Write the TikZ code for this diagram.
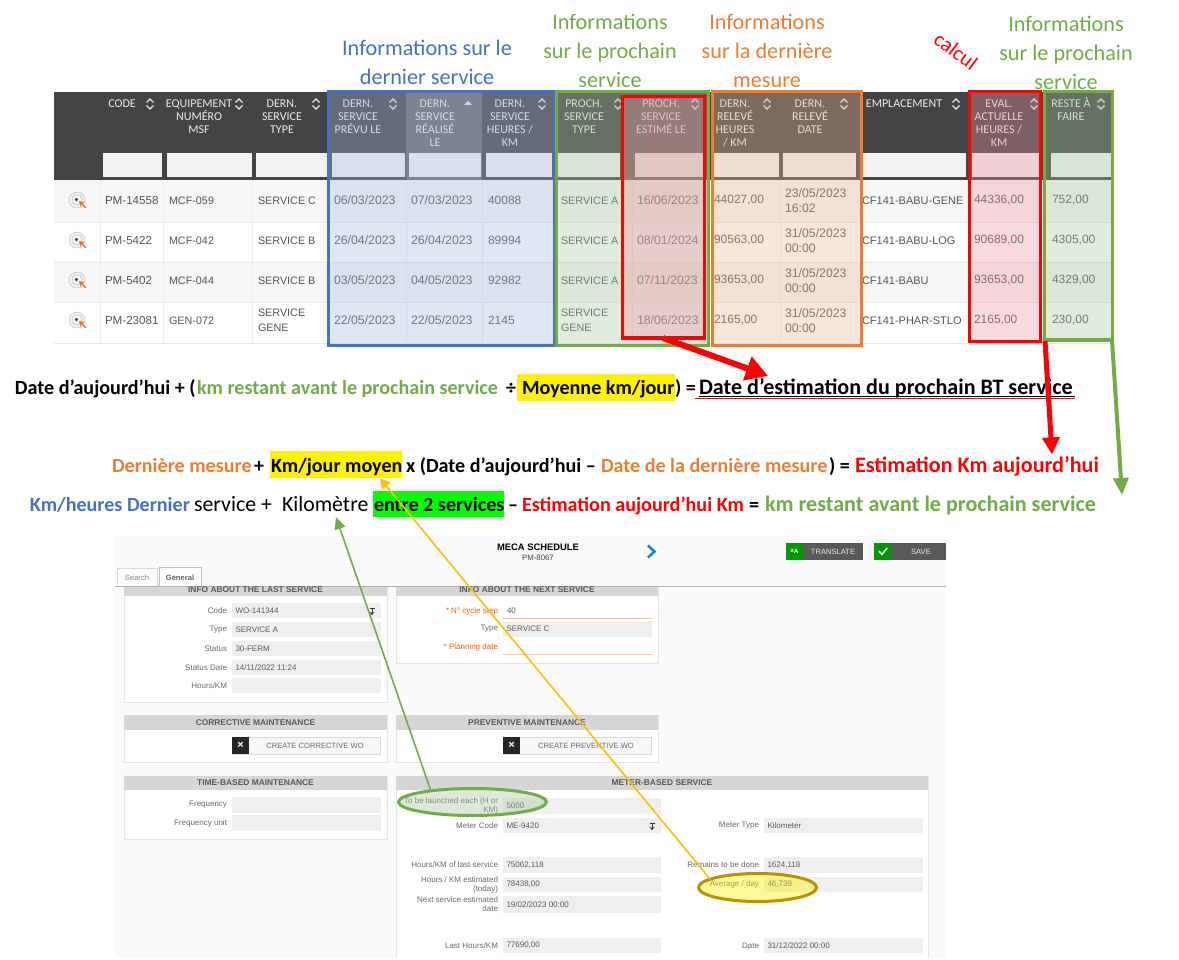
\documentclass[tikz,border=0pt]{standalone}
\usepackage{fontspec}
\setmainfont{Carlito}
\newfontfamily\uifont{Liberation Sans}
\usetikzlibrary{arrows.meta}
\usetikzlibrary{fit}
\usetikzlibrary{shapes.geometric}
\definecolor{zoneblue}{HTML}{4472C4}
\definecolor{zonegreen}{HTML}{70AD47}
\definecolor{zoneorange}{HTML}{ED7D31}
\definecolor{tintblue}{HTML}{A5BBDF}
\definecolor{tintgreen}{HTML}{A9C99E}
\definecolor{tintorange}{HTML}{EDB794}
\definecolor{tintred}{HTML}{EF94A3}
\definecolor{headdark}{HTML}{444444}
\definecolor{bodytext}{HTML}{555555}
\definecolor{formtext}{HTML}{6A6A6A}
\definecolor{fieldgrey}{HTML}{EFEFEF}
\definecolor{panelhead}{HTML}{D6D6D6}
\definecolor{gold}{HTML}{BF9000}
\definecolor{arrowgold}{HTML}{FFC000}
\tikzset{
  every node/.style={inner sep=0pt, outer sep=0pt},
  zonetitle/.style={align=center, font=\fontsize{22.2}{29}\selectfont},
  headtext/.style={anchor=north, align=center, text=white!92!black, font=\fontsize{12}{13}\selectfont},
  celltext/.style={anchor=west, align=left, text=bodytext},
  zonebox/.style={rectangle, line width=3pt, fill opacity=.34, draw opacity=1},
  formula/.style={anchor=base west, font=\bfseries\fontsize{20.1}{22}\selectfont},
  bigformula/.style={anchor=base west, font=\bfseries\fontsize{22.1}{24}\selectfont},
  plainformula/.style={anchor=base west, font=\fontsize{21.8}{24}\selectfont},
  formlabel/.style={anchor=east, align=right, text=formtext, font=\uifont\fontsize{8}{9}\selectfont},
  formvalue/.style={anchor=west, text=formtext!85!black, font=\uifont\fontsize{8}{9}\selectfont},
  panelhd/.style={text=black!65, font=\uifont\bfseries\fontsize{8.4}{9}\selectfont},
  btntext/.style={text=white!90!black, font=\uifont\fontsize{7.6}{9}\selectfont},
  oval/.style={ellipse, line width=3pt, fill opacity=.4, draw opacity=1},
}
% one column of the table, four rows
\newcommand{\cellcol}[7][11]{
  \node[celltext, font=\uifont\fontsize{#1}{15.5}\selectfont] (#2a) at (#3,200.5) {#4};
  \node[celltext, font=\uifont\fontsize{#1}{15.5}\selectfont] (#2b) at (#3,240.5) {#5};
  \node[celltext, font=\uifont\fontsize{#1}{15.5}\selectfont] (#2c) at (#3,280.5) {#6};
  \node[celltext, font=\uifont\fontsize{#1}{15.5}\selectfont] (#2d) at (#3,320.5) {#7};
}
% label and grey field of the form
\newcommand{\formfield}[8]{
  \fill[fieldgrey] (#3,#5) rectangle (#4,#6);
  \node[formlabel] (#1l) at (#2-5,{(#5+#6)/2}) {#7};
  \node[formvalue] (#1v) at (#3+3.5,{(#5+#6)/2}) {#8};
}
\newcommand{\formpanel}[4]{
  \fill[white] (#1,#2) rectangle (#3,#4);
  \draw[black!10] (#1,#2) rectangle (#3,#4);
}
\begin{document}
\begin{tikzpicture}[x=1pt, y=-1pt]
  \useasboundingbox (0,0) rectangle (1179,960);
  \fill[white] (0,0) rectangle (1179,960);

  % table
  \fill[headdark] (54,92) rectangle (1112,180);
  \fill[headdark!80!white] (406,92) rectangle (482,180);
  \fill[black!3] (54,180) rectangle (1112,222);
  \fill[black!3] (54,262) rectangle (1112,302);
  \foreach \yy in {222,262,302,343}
    \draw[black!9] (54,\yy) -- (1112,\yy);
  \foreach \xx in {100,163,252,406,482,632,780,861,1041}
    \draw[black!7] (\xx,180) -- (\xx,343);
  \foreach \xa/\xb in {103/162,167/252,256/327,332/405,409/481,486/552,558/620,635/706,714/779,783/856,862/966,972/1039,1051/1111}
    \fill[white!95!black] (\xa,153) rectangle (\xb,177);

  \node[headtext] (hcode) at (122,100) {CODE};
  \node[headtext] (hequip) at (199,100) {EQUIPEMENT\\NUMÉRO\\MSF};
  \node[headtext] (htype) at (282,100) {DERN.\\SERVICE\\TYPE};
  \node[headtext] (hprevu) at (358,100) {DERN.\\SERVICE\\PRÉVU LE};
  \node[headtext] (hreal) at (435,100) {DERN.\\SERVICE\\RÉALISÉ\\LE};
  \node[headtext] (hheures) at (510,100) {DERN.\\SERVICE\\HEURES /\\KM};
  \node[headtext] (hproch) at (584,100) {PROCH.\\SERVICE\\TYPE};
  \node[headtext] (hestim) at (661,100) {PROCH.\\SERVICE\\ESTIMÉ LE};
  \node[headtext] (hrel) at (735,100) {DERN.\\RELEVÉ\\HEURES\\/ KM};
  \node[headtext] (hdate) at (810,100) {DERN.\\RELEVÉ\\DATE};
  \node[headtext] (hempl) at (904,100) {EMPLACEMENT};
  \node[headtext] (heval) at (999,100) {EVAL.\\ACTUELLE\\HEURES /\\KM};
  \node[headtext] (hreste) at (1071,97.5) {RESTE À\\FAIRE};
  \foreach \xx in {150,239,316,393,542,618,695,767,844,956,1034,1101} {
    \draw[white!90!black, line width=1.2pt] (\xx-3.5,102.5) -- (\xx,99) -- (\xx+3.5,102.5);
    \draw[white!90!black, line width=1.2pt] (\xx-3.5,105.5) -- (\xx,109) -- (\xx+3.5,105.5);
  }
  \fill[white!90!black] (464,105) -- (468,101) -- (472,105) -- cycle;

  % icons of the first column
  \foreach \yy in {200,240,280,320} {
    \draw[black!25, fill=black!6] (77,\yy) circle (8pt);
    \draw[black!30, fill=white] (77,\yy) circle (5pt);
    \fill[black!70] (76.5,\yy-.5) circle (1.8pt);
    \draw[-{Stealth[length=5pt,width=6pt]}, draw=orange!80!red, line width=1.3pt] (86,\yy+8) -- (79,\yy+1);
  }

  \cellcol[11.6]{code}{105}{PM-14558}{PM-5422}{PM-5402}{PM-23081}
  \cellcol[10.8]{equip}{169}{MCF-059}{MCF-042}{MCF-044}{GEN-072}
  \cellcol[10.8]{type}{258}{SERVICE C}{SERVICE B}{SERVICE B}{SERVICE\\GENE}
  \cellcol[12.3]{prevu}{334}{06/03/2023}{26/04/2023}{03/05/2023}{22/05/2023}
  \cellcol[12.3]{real}{411}{07/03/2023}{26/04/2023}{04/05/2023}{22/05/2023}
  \cellcol[12]{hkm}{488}{40088}{89994}{92982}{2145}
  \cellcol[10.8]{proch}{561}{SERVICE A}{SERVICE A}{SERVICE A}{SERVICE\\GENE}
  \cellcol[12.3]{estim}{637}{16/06/2023}{08/01/2024}{07/11/2023}{18/06/2023}
  \cellcol[12]{rel}{714}{44027,00}{90563,00}{93653,00}{2165,00}
  \cellcol[12.3]{date}{785}{23/05/2023\\16:02}{31/05/2023\\00:00}{31/05/2023\\00:00}{31/05/2023\\00:00}
  \cellcol[11]{empl}{862}{CF141-BABU-GENE}{CF141-BABU-LOG}{CF141-BABU}{CF141-PHAR-STLO}
  \cellcol[12]{eval}{974}{44336,00}{90689,00}{93653,00}{2165,00}
  \cellcol[12]{reste}{1052}{752,00}{4305,00}{4329,00}{230,00}

  % coloured zones over the table
  \node[zonebox, draw=zoneblue, fill=tintblue, fit={(328,92) (554,345)}] (bluezone) {};
  \node[zonebox, draw=zonegreen, fill=tintgreen, fit={(556,92) (708,345)}] (greenzone) {};
  \node[zonebox, draw=red, fill=tintred, fit={(622,97) (704,338)}] (estimzone) {};
  \node[zonebox, draw=zoneorange, fill=tintorange, fit={(712,92) (861,345)}] (orangezone) {};
  \node[zonebox, draw=red, fill=tintred, fit={(969,92) (1040,341)}] (evalzone) {};
  \node[zonebox, draw=zonegreen, fill=tintgreen, fit={(1044,92) (1112,340)}] (restezone) {};

  \node[zonetitle, text=zoneblue] (bluetitle) at (427,62.5) {Informations sur le\\dernier service};
  \node[zonetitle, text=zonegreen] (greentitle) at (610,51) {Informations\\sur le prochain\\service};
  \node[zonetitle, text=zoneorange] (orangetitle) at (767,51) {Informations\\sur la dernière\\mesure};
  \node[zonetitle, text=zonegreen] (restetitle) at (1066,53) {Informations\\sur le prochain\\service};
  \node[text=red, rotate=-37, font=\fontsize{21}{22}\selectfont] (calcul) at (956,51) {calcul};

  % formulas
  \fill[yellow] (517,374) rectangle (675,401);
  \node[formula] (f1a) at (15,394) {Date d’aujourd’hui + (};
  \node[formula, text=zonegreen] (f1b) at (197,394) {km restant avant le prochain service};
  \node[formula] (f1c) at (506,394) {÷};
  \node[formula] (f1d) at (522,394) {Moyenne km/jour};
  \node[formula] (f1e) at (675,394) {) =};
  \node[bigformula] (f1f) at (699,394) {Date d’estimation du prochain BT service};
  \draw[black, line width=1pt] (699,396.5) -- (1075,396.5);
  \draw[red, line width=1pt] (695,398.5) -- (1075,398.5);

  \fill[yellow] (270,451) rectangle (402,478);
  \node[formula, text=zoneorange] (f2a) at (112,472) {Dernière mesure};
  \node[formula] (f2b) at (254,472) {+};
  \node[formula] (f2c) at (271,472) {Km/jour moyen};
  \node[formula] (f2d) at (406,472) {x (Date d’aujourd’hui –};
  \node[formula, text=zoneorange] (f2e) at (601,472) {Date de la dernière mesure};
  \node[formula] (f2f) at (829,472) {) =};
  \node[bigformula, text=red] (f2g) at (855,472) {Estimation Km aujourd’hui};

  \fill[green] (373,491) rectangle (504,517);
  \node[formula, text=zoneblue] (f3a) at (30,511) {Km/heures Dernier};
  \node[plainformula] (f3b) at (194,511) {service +};
  \node[plainformula] (f3c) at (282,511) {Kilomètre};
  \node[formula] (f3d) at (374,511) {entre 2 services};
  \node[formula] (f3e) at (508,511) {–};
  \node[formula, text=red] (f3f) at (522,511) {Estimation aujourd’hui Km};
  \node[formula] (f3g) at (749,511) {=};
  \node[bigformula, text=zonegreen] (f3h) at (765,511) {km restant avant le prochain service};

  % screenshot of the form
  \fill[black!2] (115,536) rectangle (946,958);
  \node[font=\uifont\bfseries\fontsize{9.4}{10}\selectfont] (meca) at (538,547) {MECA SCHEDULE};
  \node[font=\uifont\fontsize{7.8}{9}\selectfont, text=black!75] (pmno) at (538,558) {PM-8067};
  \draw[cyan!70!blue, line width=2.6pt] (648,545.5) -- (654.5,551.5) -- (648,557.5);

  \fill[black!65] (786,543) rectangle (863,560);
  \fill[green!60!black] (786,543) rectangle (803,560);
  \node[btntext] (btntrans) at (833,551.5) {TRANSLATE};
  \node[text=white, font=\uifont\bfseries\fontsize{6}{7}\selectfont] (btnicon) at (794.5,551.5) {x\raisebox{-1.5pt}{A}};
  \fill[black!65] (874,543) rectangle (946,560);
  \fill[green!60!black] (874,543) rectangle (891,560);
  \draw[white, line width=1.6pt] (879,551) -- (882,554.5) -- (887,548);
  \node[btntext] (btnsave) at (921,551.5) {SAVE};

  \draw[black!15, fill=black!1] (117,586) -- (117,568) -- (157,568) -- (157,586);
  \draw[black!25, fill=white] (159,586) -- (159,567) -- (201,567) -- (201,586);
  \node[font=\uifont\fontsize{7.6}{9}\selectfont, text=black!45] (tabsearch) at (137,577.5) {Search};
  \node[font=\uifont\bfseries\fontsize{7.6}{9}\selectfont, text=black!60] (tabgeneral) at (180,577.5) {General};

  % panels
  \formpanel{124}{586}{387}{702}
  \fill[panelhead] (124,586) rectangle (387,596);
  \draw[black!30, line width=1pt] (115,586) -- (946,586);
  \node[panelhd] (plast) at (255.5,589.5) {INFO ABOUT THE LAST SERVICE};
  \formfield{code}{232}{232}{381}{603}{618}{Code}{WO-141344}
  \formfield{ltype}{232}{232}{381}{622}{637}{Type}{SERVICE A}
  \formfield{status}{232}{232}{381}{641}{656}{Status}{30-FERM}
  \formfield{sdate}{232}{232}{381}{660}{675}{Status Date}{14/11/2022 11:24}
  \formfield{hours}{232}{232}{381}{678}{693}{Hours/KM}{}

  \formpanel{396}{587}{658}{663}
  \fill[panelhead] (396,587) rectangle (658,596);
  \node[panelhd] (pnext) at (527,589.5) {INFO ABOUT THE NEXT SERVICE};
  \node[formlabel, text=orange!70!red] (lcycle) at (498,611) {* N° cycle step};
  \node[formvalue] (vcycle) at (507,611) {40};
  \draw[orange!45!white, line width=1pt] (503,618) -- (652,618);
  \formfield{ntype}{503}{503}{652}{621}{637}{Type}{SERVICE C}
  \node[formlabel, text=orange!70!red] (lplan) at (498,647) {* Planning date};
  \draw[orange!45!white, line width=1pt] (503,654) -- (652,654);

  \formpanel{124}{715}{387}{762}
  \fill[panelhead] (124,715) rectangle (387,730);
  \node[panelhd] (pcorr) at (255.5,722.5) {CORRECTIVE MAINTENANCE};
  \draw[black!15, fill=black!3] (232,737) rectangle (380,754);
  \fill[black!85] (232,737) rectangle (249,754);
  \node[text=white, font=\uifont\bfseries\fontsize{11}{11}\selectfont] (xcorr) at (240.5,745.5) {×};
  \node[font=\uifont\fontsize{7.6}{9}\selectfont, text=formtext] (bcorr) at (315,746) {CREATE CORRECTIVE WO};

  \formpanel{396}{715}{658}{762}
  \fill[panelhead] (396,715) rectangle (658,730);
  \node[panelhd] (pprev) at (527,722.5) {PREVENTIVE MAINTENANCE};
  \draw[black!15, fill=black!3] (503,737) rectangle (651,754);
  \fill[black!85] (503,737) rectangle (520,754);
  \node[text=white, font=\uifont\bfseries\fontsize{11}{11}\selectfont] (xprev) at (511.5,745.5) {×};
  \node[font=\uifont\fontsize{7.6}{9}\selectfont, text=formtext] (bprev) at (586,746) {CREATE PREVENTIVE WO};

  \formpanel{124}{776}{387}{839}
  \fill[panelhead] (124,776) rectangle (387,790);
  \node[panelhd] (ptime) at (255.5,783) {TIME-BASED MAINTENANCE};
  \formfield{freq}{232}{232}{381}{797}{813}{Frequency}{}
  \formfield{frequ}{232}{232}{381}{815}{831}{Frequency unit}{}

  \fill[white] (396,776) rectangle (928,958);
  \draw[black!10] (396,958) -- (396,776) -- (928,776) -- (928,958);
  \fill[panelhead] (396,776) rectangle (928,790);
  \node[panelhd] (pmeter) at (662,783) {METER-BASED SERVICE};
  \formfield{launch}{503}{503}{661}{798}{814}{To be launched each (H or\\KM)}{5000}
  \formfield{mcode}{503}{503}{661}{818}{833}{Meter Code}{ME-9420}
  \formfield{hlast}{503}{503}{661}{857}{873}{Hours/KM of last service}{75062,118}
  \formfield{hest}{503}{503}{661}{877}{892}{Hours / KM estimated\\(today)}{78438,00}
  \formfield{nexts}{503}{503}{661}{896}{913}{Next service estimated\\date}{19/02/2023 00:00}
  \formfield{lasth}{503}{503}{661}{938}{953}{Last Hours/KM}{77690,00}
  \formfield{mtype}{764}{764}{923}{818}{833}{Meter Type}{Kilometer}
  \formfield{remain}{764}{764}{923}{857}{873}{Remains to be done}{1624,118}
  \formfield{avg}{764}{764}{923}{877}{892}{Average / day}{46,739}
  \formfield{mdate}{764}{764}{923}{938}{953}{Date}{31/12/2022 00:00}
  % small selector marks in two fields
  \foreach \xx/\yy in {372/611,652/826} {
    \draw[black!80, line width=.8pt] (\xx-2.5,\yy-3) -- (\xx+2.5,\yy-3);
    \draw[-{Stealth[length=3pt,width=5pt]}, black!80, line width=1pt] (\xx,\yy-3) -- (\xx,\yy+4);
  }

  \node[oval, draw=zonegreen, fill=tintgreen, minimum width=148pt, minimum height=27pt] (launchoval) at (472.5,802) {};
  \node[oval, draw=gold, fill=yellow, minimum width=118pt, minimum height=28pt] (avgoval) at (757.5,887.5) {};

  % arrows
  \coordinate (remaintip) at (1122,495);
  \draw[-{Triangle[length=22pt,width=24pt]}, red, line width=6pt] (estimzone.south) -- ([xshift=69pt,yshift=2pt]f1f.north west);
  \draw[-{Triangle[length=17pt,width=17pt]}, red, line width=5pt] ([xshift=5pt]evalzone.south east) -- ([xshift=197pt,yshift=1.5pt]f2g.north west);
  \draw[-{Triangle[length=17pt,width=15pt]}, zonegreen, line width=4pt] (restezone.south east) -- (remaintip);
  \draw[-{Triangle[length=12pt,width=11pt]}, zonegreen, line width=1.6pt] (launchoval.165) -- ([xshift=54pt,yshift=-6pt]f3c.south west);
  \draw[-{Triangle[length=10pt,width=11pt]}, arrowgold, line width=1.6pt] (avgoval.170) -- ([xshift=109pt,yshift=-3pt]f2c.south west);
\end{tikzpicture}
\end{document}
